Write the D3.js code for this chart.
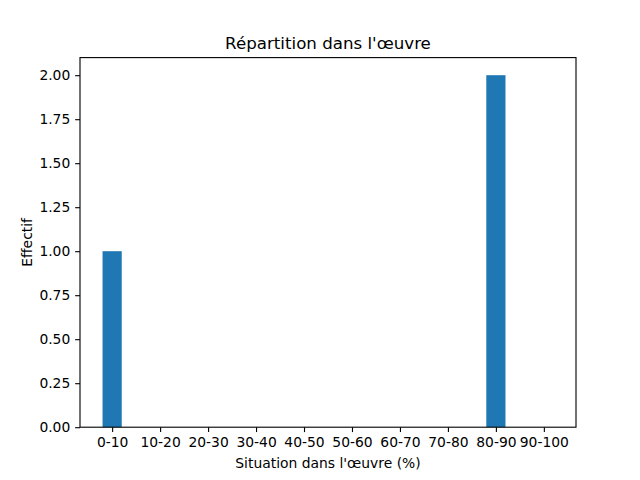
<!DOCTYPE html>
<html><head><meta charset="utf-8">
<script src="https://cdn.jsdelivr.net/npm/d3@7"></script>
<style>body{margin:0;background:#fff;} text{font-family:"DejaVu Sans",sans-serif;fill:#000;}</style>
</head><body>
<svg id="c" width="640" height="480"></svg>
<script>
const categories = ["0-10","10-20","20-30","30-40","40-50","50-60","60-70","70-80","80-90","90-100"];
const values = [1,0,0,0,0,0,0,0,2,0];
const yTicks = [0,0.25,0.5,0.75,1.0,1.25,1.5,1.75,2.0];
const title = "Répartition dans l'œuvre";
const xLabel = "Situation dans l'œuvre (%)";
const yLabel = "Effectif";

const svg = d3.select("#c");
const L=80, R=576, T=57.6, B=427.2;
const bw = 0.4;
const n = categories.length;
const span = (n-1) + bw;
const pad = span*0.05;
const x = d3.scaleLinear().domain([-bw/2-pad, n-1+bw/2+pad]).range([L,R]);
const y = d3.scaleLinear().domain([0, d3.max(values)*1.05]).range([B,T]);

svg.append("rect").attr("width",640).attr("height",480).attr("fill","#fff");

svg.selectAll("rect.bar").data(values).enter().append("rect")
  .attr("class","bar")
  .attr("x",(d,i)=>x(i-bw/2)).attr("width",(d,i)=>x(i+bw/2)-x(i-bw/2))
  .attr("y",d=>y(d)).attr("height",d=>y(0)-y(d))
  .attr("fill","#1f77b4");

const fs = 13.89;
const xAxis = d3.axisBottom(x).tickValues(d3.range(n)).tickFormat(i=>categories[i]).tickSizeInner(4.86).tickSizeOuter(0).tickPadding(4.86);
const gx = svg.append("g").attr("transform",`translate(0,${B})`).call(xAxis);
const yAxis = d3.axisLeft(y).tickValues(yTicks).tickFormat(d3.format(".2f")).tickSizeInner(4.86).tickSizeOuter(0).tickPadding(4.86);
const gy = svg.append("g").attr("transform",`translate(${L},0)`).call(yAxis);
[gx,gy].forEach(g=>{
  g.select(".domain").remove();
  g.selectAll(".tick line").attr("stroke","#000").attr("stroke-width",1.11);
  g.selectAll(".tick text").attr("font-size",fs).attr("font-family","DejaVu Sans");
});

svg.append("rect").attr("x",L).attr("y",T).attr("width",R-L).attr("height",B-T)
  .attr("fill","none").attr("stroke","#000").attr("stroke-width",1.11);

svg.append("text").attr("x",(L+R)/2).attr("y",T-8.33).attr("text-anchor","middle")
  .attr("font-size",16.67).text(title);
svg.append("text").attr("x",(L+R)/2).attr("y",468).attr("text-anchor","middle")
  .attr("font-size",fs).text(xLabel);
svg.append("text").attr("transform",`translate(32,${(T+B)/2}) rotate(-90)`).attr("text-anchor","middle")
  .attr("font-size",fs).text(yLabel);
</script>
</body></html>
